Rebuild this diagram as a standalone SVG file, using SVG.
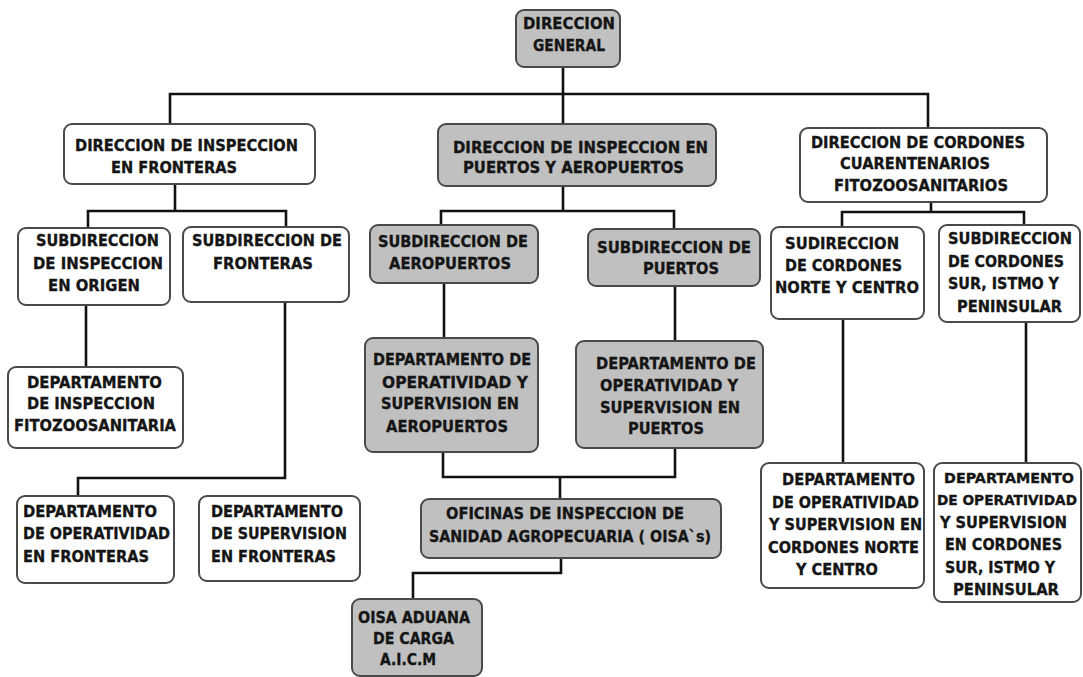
<svg xmlns="http://www.w3.org/2000/svg" width="1083" height="677" viewBox="0 0 1083 677">
<style>
.b{stroke:#4a4a4a;stroke-width:2}
.w{fill:#ffffff}
.g{fill:#c0c0c0}
.c{fill:none;stroke:#111;stroke-width:2.6;stroke-linecap:square}
text{font-family:"DejaVu Sans","Liberation Sans",sans-serif;font-weight:bold;font-size:16px;fill:#151515;stroke:#151515;stroke-width:0.35}
text.s{font-size:14px}
</style>
<rect width="1083" height="677" fill="#ffffff"/>
<g id="connectors" class="c">
<path d="M563 67V124M170 94H928M170 94V124M928 94V128"/>
<path d="M175 184V211M88 211H286M88 211V228M286 211V227"/>
<path d="M563 186V211M441 211H674M441 211V225M674 211V229"/>
<path d="M931 202V212M842 212H1024M842 212V227M1024 212V225"/>
<path d="M86 305V367"/>
<path d="M285 302V478M78 478H285M78 478V496"/>
<path d="M444 283V338M675 286V341"/>
<path d="M443 452V477H675V448M560 477V499"/>
<path d="M561 558V573H413V599"/>
<path d="M843 319V463M1026 322V463"/>
</g>
<g id="direccion-general">
<rect class="b g" x="516" y="10" width="104" height="57" rx="8"/>
<text x="523" y="29" textLength="92" lengthAdjust="spacingAndGlyphs">DIRECCION</text>
<text x="533" y="51" textLength="72" lengthAdjust="spacingAndGlyphs">GENERAL</text>
</g>
<g id="dir-fronteras">
<rect class="b w" x="64" y="124" width="251" height="60" rx="8"/>
<text x="75" y="151" textLength="223" lengthAdjust="spacingAndGlyphs">DIRECCION DE INSPECCION</text>
<text x="111" y="173" textLength="126" lengthAdjust="spacingAndGlyphs">EN FRONTERAS</text>
</g>
<g id="dir-puertos">
<rect class="b g" x="438" y="124" width="278" height="62" rx="8"/>
<text x="453" y="153" textLength="255" lengthAdjust="spacingAndGlyphs">DIRECCION  DE INSPECCION EN</text>
<text x="463" y="173" textLength="221" lengthAdjust="spacingAndGlyphs">PUERTOS Y AEROPUERTOS</text>
</g>
<g id="dir-cordones">
<rect class="b w" x="800" y="128" width="247" height="74" rx="8"/>
<text x="811" y="148" textLength="214" lengthAdjust="spacingAndGlyphs">DIRECCION DE CORDONES</text>
<text x="840" y="169" textLength="150" lengthAdjust="spacingAndGlyphs">CUARENTENARIOS</text>
<text x="834" y="191" textLength="174" lengthAdjust="spacingAndGlyphs">FITOZOOSANITARIOS</text>
</g>
<g id="sub-origen">
<rect class="b w" x="18" y="228" width="152" height="77" rx="8"/>
<text x="36" y="246" textLength="123" lengthAdjust="spacingAndGlyphs">SUBDIRECCION</text>
<text x="33" y="269" textLength="130" lengthAdjust="spacingAndGlyphs">DE INSPECCION</text>
<text x="48" y="291" textLength="92" lengthAdjust="spacingAndGlyphs">EN ORIGEN</text>
</g>
<g id="sub-fronteras">
<rect class="b w" x="183" y="227" width="166" height="75" rx="8"/>
<text x="192" y="246" textLength="150" lengthAdjust="spacingAndGlyphs">SUBDIRECCION DE</text>
<text x="213" y="269" textLength="100" lengthAdjust="spacingAndGlyphs">FRONTERAS</text>
</g>
<g id="dep-fito">
<rect class="b w" x="8" y="367" width="175" height="81" rx="8"/>
<text x="27" y="388" textLength="135" lengthAdjust="spacingAndGlyphs">DEPARTAMENTO</text>
<text x="27" y="409" textLength="128" lengthAdjust="spacingAndGlyphs">DE INSPECCION</text>
<text x="14" y="431" textLength="162" lengthAdjust="spacingAndGlyphs">FITOZOOSANITARIA</text>
</g>
<g id="dep-op-fronteras">
<rect class="b w" x="17" y="496" width="157" height="87" rx="8"/>
<text x="23" y="517" textLength="134" lengthAdjust="spacingAndGlyphs">DEPARTAMENTO</text>
<text x="23" y="539" textLength="147" lengthAdjust="spacingAndGlyphs">DE OPERATIVIDAD</text>
<text x="23" y="562" textLength="126" lengthAdjust="spacingAndGlyphs">EN FRONTERAS</text>
</g>
<g id="dep-sup-fronteras">
<rect class="b w" x="199" y="496" width="161" height="85" rx="8"/>
<text x="211" y="517" textLength="132" lengthAdjust="spacingAndGlyphs">DEPARTAMENTO</text>
<text x="211" y="539" textLength="136" lengthAdjust="spacingAndGlyphs">DE SUPERVISION</text>
<text x="211" y="562" textLength="125" lengthAdjust="spacingAndGlyphs">EN FRONTERAS</text>
</g>
<g id="sub-aeropuertos">
<rect class="b g" x="370" y="225" width="168" height="58" rx="8"/>
<text x="378" y="247" textLength="150" lengthAdjust="spacingAndGlyphs">SUBDIRECCION DE</text>
<text x="389" y="269" textLength="122" lengthAdjust="spacingAndGlyphs">AEROPUERTOS</text>
</g>
<g id="sub-puertos">
<rect class="b g" x="588" y="229" width="172" height="57" rx="8"/>
<text x="597" y="253" textLength="154" lengthAdjust="spacingAndGlyphs">SUBDIRECCION DE</text>
<text x="643" y="274" textLength="76" lengthAdjust="spacingAndGlyphs">PUERTOS</text>
</g>
<g id="dep-aeropuertos">
<rect class="b g" x="365" y="338" width="173" height="114" rx="8"/>
<text x="373" y="365" textLength="158" lengthAdjust="spacingAndGlyphs">DEPARTAMENTO DE</text>
<text x="382" y="388" textLength="146" lengthAdjust="spacingAndGlyphs">OPERATIVIDAD Y</text>
<text x="381" y="409" textLength="138" lengthAdjust="spacingAndGlyphs">SUPERVISION EN</text>
<text x="386" y="432" textLength="122" lengthAdjust="spacingAndGlyphs">AEROPUERTOS</text>
</g>
<g id="dep-puertos">
<rect class="b g" x="576" y="341" width="187" height="107" rx="8"/>
<text x="596" y="369" textLength="160" lengthAdjust="spacingAndGlyphs">DEPARTAMENTO DE</text>
<text x="600" y="391" textLength="138" lengthAdjust="spacingAndGlyphs">OPERATIVIDAD Y</text>
<text x="600" y="413" textLength="140" lengthAdjust="spacingAndGlyphs">SUPERVISION EN</text>
<text x="628" y="434" textLength="76" lengthAdjust="spacingAndGlyphs">PUERTOS</text>
</g>
<g id="oisas">
<rect class="b g" x="421" y="499" width="300" height="59" rx="8"/>
<text x="446" y="519" textLength="238" lengthAdjust="spacingAndGlyphs">OFICINAS DE INSPECCION DE</text>
<text x="429" y="542" textLength="282" lengthAdjust="spacingAndGlyphs">SANIDAD AGROPECUARIA ( OISA`s)</text>
</g>
<g id="oisa-aduana">
<rect class="b g" x="352" y="599" width="130" height="77" rx="8"/>
<text x="358" y="623" textLength="112" lengthAdjust="spacingAndGlyphs">OISA ADUANA</text>
<text x="373" y="644" textLength="81" lengthAdjust="spacingAndGlyphs">DE CARGA</text>
<text x="380" y="665" textLength="56" lengthAdjust="spacingAndGlyphs">A.I.C.M</text>
</g>
<g id="sub-norte">
<rect class="b w" x="771" y="227" width="153" height="92" rx="8"/>
<text x="785" y="249" textLength="114" lengthAdjust="spacingAndGlyphs">SUDIRECCION</text>
<text x="785" y="271" textLength="117" lengthAdjust="spacingAndGlyphs">DE CORDONES</text>
<text x="775" y="293" textLength="144" lengthAdjust="spacingAndGlyphs">NORTE Y CENTRO</text>
</g>
<g id="sub-sur">
<rect class="b w" x="939" y="225" width="141" height="97" rx="8"/>
<text x="948" y="244" textLength="124" lengthAdjust="spacingAndGlyphs">SUBDIRECCION</text>
<text x="948" y="267" textLength="116" lengthAdjust="spacingAndGlyphs">DE CORDONES</text>
<text x="948" y="289" textLength="111" lengthAdjust="spacingAndGlyphs">SUR, ISTMO Y</text>
<text x="957" y="312" textLength="105" lengthAdjust="spacingAndGlyphs">PENINSULAR</text>
</g>
<g id="dep-norte">
<rect class="b w" x="761" y="463" width="163" height="125" rx="8"/>
<text x="782" y="485" textLength="133" lengthAdjust="spacingAndGlyphs">DEPARTAMENTO</text>
<text x="772" y="508" textLength="147" lengthAdjust="spacingAndGlyphs">DE OPERATIVIDAD</text>
<text x="769" y="530" textLength="153" lengthAdjust="spacingAndGlyphs">Y SUPERVISION EN</text>
<text x="768" y="553" textLength="151" lengthAdjust="spacingAndGlyphs">CORDONES NORTE</text>
<text x="796" y="575" textLength="82" lengthAdjust="spacingAndGlyphs">Y CENTRO</text>
</g>
<g id="dep-sur">
<rect class="b w" x="934" y="463" width="147" height="139" rx="8"/>
<text class="s" x="944" y="483" textLength="130" lengthAdjust="spacingAndGlyphs">DEPARTAMENTO</text>
<text class="s" x="937" y="505" textLength="140" lengthAdjust="spacingAndGlyphs">DE OPERATIVIDAD</text>
<text x="940" y="528" textLength="127" lengthAdjust="spacingAndGlyphs">Y SUPERVISION</text>
<text x="945" y="550" textLength="117" lengthAdjust="spacingAndGlyphs">EN CORDONES</text>
<text x="945" y="573" textLength="110" lengthAdjust="spacingAndGlyphs">SUR, ISTMO Y</text>
<text x="953" y="595" textLength="106" lengthAdjust="spacingAndGlyphs">PENINSULAR</text>
</g>
</svg>
